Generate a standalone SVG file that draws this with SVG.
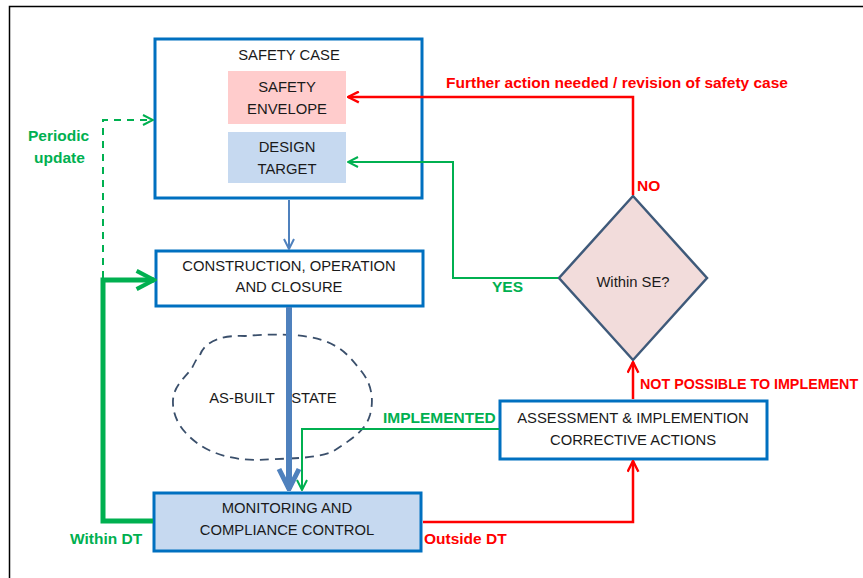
<svg xmlns="http://www.w3.org/2000/svg" width="863" height="578" viewBox="0 0 863 578">
<defs>
<style>
.box{fill:#fff;stroke:#0070c0;stroke-width:3}
.t{font-family:"Liberation Sans",Arial,sans-serif;font-size:14.8px;fill:#1a1a1a;text-anchor:middle}
.lg{font-family:"Liberation Sans",Arial,sans-serif;font-size:15.5px;font-weight:bold;fill:#00b050}
.lr{font-family:"Liberation Sans",Arial,sans-serif;font-size:15.5px;font-weight:bold;fill:#ff0000}
.g{fill:none;stroke:#00b050;stroke-width:2}
.r{fill:none;stroke:#ff0000;stroke-width:2.5}
</style>
<marker id="ag" viewBox="0 0 12 12" refX="11" refY="6" markerWidth="12" markerHeight="12" markerUnits="userSpaceOnUse" orient="auto"><path d="M1,1 L11,6 L1,11" fill="none" stroke="#00b050" stroke-width="2"/></marker>
<marker id="ar" viewBox="0 0 12 12" refX="11" refY="6" markerWidth="13" markerHeight="13" markerUnits="userSpaceOnUse" orient="auto"><path d="M1,1 L11,6 L1,11" fill="none" stroke="#ff0000" stroke-width="2.2"/></marker>
<marker id="ab" viewBox="0 0 12 12" refX="11" refY="6" markerWidth="12" markerHeight="12" markerUnits="userSpaceOnUse" orient="auto"><path d="M1,1 L11,6 L1,11" fill="none" stroke="#4f81bd" stroke-width="2"/></marker>
<marker id="abig" viewBox="0 0 24 24" refX="22" refY="12" markerWidth="24" markerHeight="28" markerUnits="userSpaceOnUse" orient="auto"><path d="M2,2 L22,12 L2,22" fill="none" stroke="#4f81bd" stroke-width="5"/></marker>
<marker id="agbig" viewBox="0 0 24 24" refX="21" refY="12" markerWidth="22" markerHeight="22" markerUnits="userSpaceOnUse" orient="auto"><path d="M2,2 L21,12 L2,22" fill="none" stroke="#00b050" stroke-width="4.5"/></marker>
</defs>
<rect x="0" y="0" width="863" height="578" fill="#fff"/>
<path d="M9.5,578 V6.5 H863" fill="none" stroke="#000" stroke-width="1.5"/>

<g id="cloud">
<path d="M200,355 C205,340 225,335 245,336 C270,334 300,333 322,340 C345,348 352,360 362,372 C372,385 374,400 370,415 C365,432 350,440 332,452 C310,460 280,458 258,460 C235,460 215,455 200,445 C185,435 172,420 173,400 C174,385 185,378 192,368 C195,362 197,358 200,355 Z" fill="none" stroke="#3a4f6b" stroke-width="1.8" stroke-dasharray="9,6"/>
<text class="t" x="242" y="403">AS-BUILT</text>
<text class="t" x="314" y="403">STATE</text>
</g>

<g id="safety-case">
<rect class="box" x="155" y="39" width="267" height="159"/>
<text class="t" x="289" y="60">SAFETY CASE</text>
</g>
<g id="safety-envelope">
<rect x="228" y="71" width="118" height="53" fill="#ffcccc"/>
<text class="t" x="287" y="92">SAFETY</text>
<text class="t" x="287" y="114">ENVELOPE</text>
</g>
<g id="design-target">
<rect x="228" y="132" width="118" height="51" fill="#c6d9f0"/>
<text class="t" x="287" y="152">DESIGN</text>
<text class="t" x="287" y="174">TARGET</text>
</g>
<g id="construction">
<rect class="box" x="156" y="251" width="267" height="55"/>
<text class="t" x="289" y="271">CONSTRUCTION, OPERATION</text>
<text class="t" x="289" y="292">AND CLOSURE</text>
</g>
<g id="monitoring">
<rect x="154" y="493" width="267" height="58" fill="#c6d9f0" stroke="#0070c0" stroke-width="3"/>
<text class="t" x="287" y="513">MONITORING AND</text>
<text class="t" x="287" y="535">COMPLIANCE CONTROL</text>
</g>
<g id="assessment">
<rect class="box" x="500" y="401" width="267" height="58"/>
<text class="t" x="633" y="423">ASSESSMENT &amp; IMPLEMENTION</text>
<text class="t" x="633" y="445">CORRECTIVE ACTIONS</text>
</g>
<g id="decision">
<path d="M633,196 L707,278 L633,360 L559,278 Z" fill="#f2dcdb" stroke="#3f5a7a" stroke-width="2.5"/>
<text class="t" x="633" y="287">Within SE?</text>
</g>

<g id="connectors">
<path class="g" d="M103,278 V120 H153" stroke-dasharray="7,6" marker-end="url(#ag)"/>
<path d="M153,521 H103 V280 H154" fill="none" stroke="#00b050" stroke-width="5" marker-end="url(#agbig)"/>
<path d="M289,200 V249" fill="none" stroke="#4f81bd" stroke-width="2" marker-end="url(#ab)"/>
<path d="M289,307 V489" fill="none" stroke="#4f81bd" stroke-width="6" marker-end="url(#abig)"/>
<path class="r" d="M633,195 V97 H348" marker-end="url(#ar)"/>
<path class="g" d="M558,278 H453 V162 H348" stroke-width="2.2" marker-end="url(#ag)"/>
<path class="r" d="M633,399 V362" marker-end="url(#ar)"/>
<path class="r" d="M423,522 H633 V461" marker-end="url(#ar)"/>
<path class="g" d="M499,429 H302 V490" marker-end="url(#ag)"/>
<text class="lr" x="446" y="88">Further action needed / revision of safety case</text>
<text class="lr" x="637" y="191">NO</text>
<text class="lg" x="492" y="292">YES</text>
<text class="lr" x="640" y="389" style="font-size:14.3px">NOT POSSIBLE TO IMPLEMENT</text>
<text class="lg" x="383" y="423">IMPLEMENTED</text>
<text class="lr" x="424" y="544">Outside DT</text>
<text class="lg" x="70" y="544">Within DT</text>
<text class="lg" x="28" y="141">Periodic</text>
<text class="lg" x="34" y="163">update</text>
</g>
</svg>
